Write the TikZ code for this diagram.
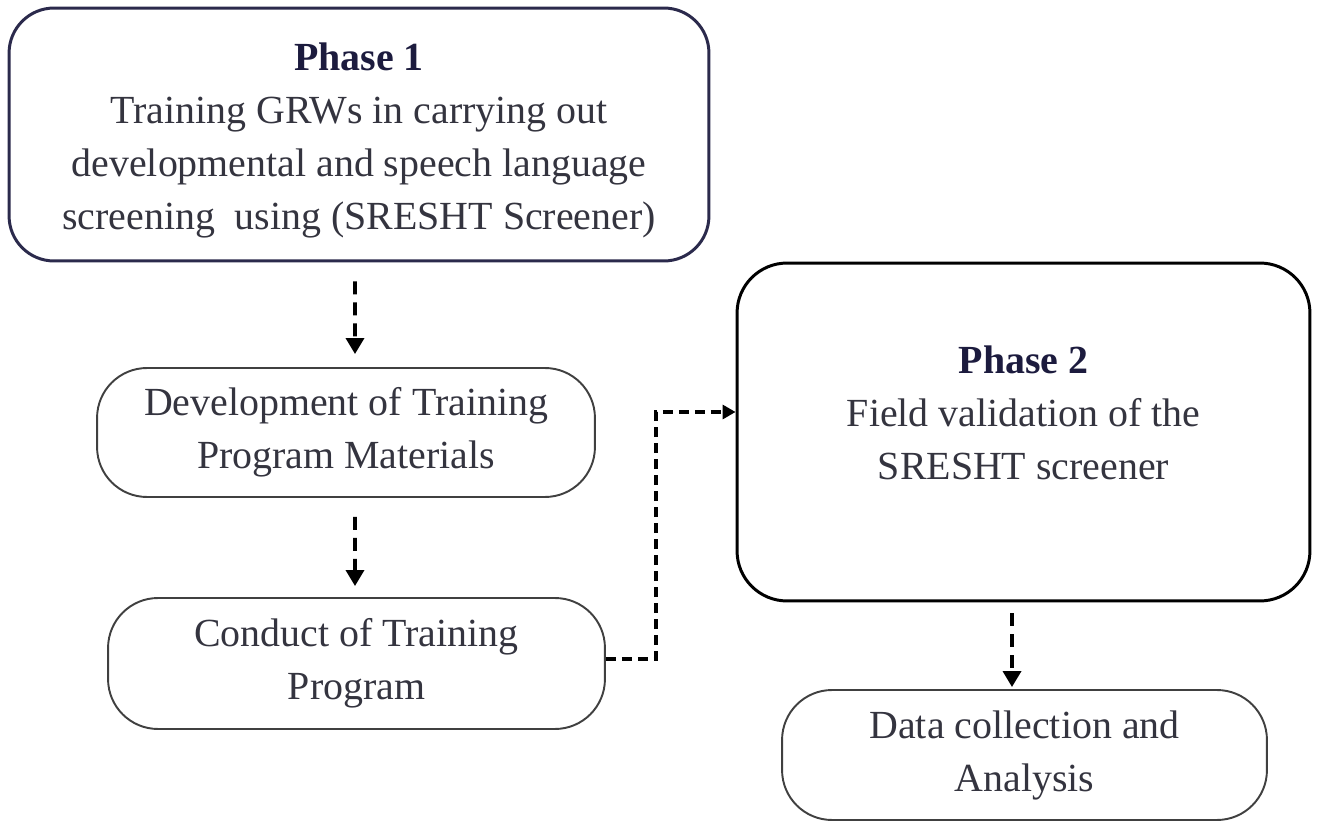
\documentclass[tikz,border=0pt]{standalone}
\usepackage{fontspec}
\setmainfont{Liberation Serif}
\usetikzlibrary{arrows.meta}
\definecolor{boxnavy}{HTML}{2B2A4C}
\definecolor{inkgray}{HTML}{34343F}
\definecolor{headnavy}{HTML}{1C1B3E}

\begin{document}
\begin{tikzpicture}[x = 0.02cm, y = -0.02cm,
        txt/.style = {align=center, text=inkgray, font=\fontsize{22.7}{30.2}\selectfont},
        bigbox/.style = {draw, rounded corners=0.9cm, line width=1.7pt},
        smallbox/.style = {draw=black!75, rounded corners=1cm, line width=1.1pt},
        flow/.style = {line width=2pt, dash pattern=on 0.26cm off 0.16cm, -{Triangle[width=0.36cm, length=0.32cm]}},
        link/.style = {line width=1.8pt, dash pattern=on 0.2cm off 0.12cm, -{Triangle[width=0.28cm, length=0.26cm]}}]
            \useasboundingbox (0,0) rectangle (1319,824);
            % left column
            \node[bigbox, draw=boxnavy, minimum width=14cm, minimum height=5.06cm] (p1) at (359,134.5) {};
            \node[txt] (p1txt) at ([yshift=-0.12cm]p1.center)
                {{\color{headnavy}\bfseries Phase 1}\\ Training GRWs in carrying out\\ developmental and speech language\\ screening\ \ using (SRESHT Screener)};
            \node[smallbox, txt, minimum width=9.96cm, minimum height=2.58cm] (dev) at (346,432.5)
                {Development of Training\\ Program Materials};
            \node[smallbox, txt, minimum width=9.94cm, minimum height=2.62cm] (con) at (356.5,663.5)
                {Conduct of Training\\ Program};
            % right column
            \node[bigbox, draw=black, rounded corners=1cm, minimum width=11.46cm, minimum height=6.76cm] (p2) at (1023.5,432) {};
            \node[txt] (p2txt) at ([yshift=0.38cm]p2.center)
                {{\color{headnavy}\bfseries Phase 2}\\ Field validation of the\\ SRESHT screener};
            \node[smallbox, txt, minimum width=9.7cm, minimum height=2.6cm] (dat) at (1024.5,755)
                {Data collection and\\ Analysis};
            % connectors
            \draw[flow] ([xshift=-0.08cm, yshift=-0.38cm]p1.south) -- ([xshift=0.18cm, yshift=0.26cm]dev.north);
            \draw[flow] ([xshift=0.18cm, yshift=-0.38cm]dev.south) -- ([xshift=-0.03cm, yshift=0.22cm]con.north);
            \draw[flow] ([xshift=-0.23cm, yshift=-0.22cm]p2.south) -- ([xshift=-0.25cm, yshift=0.04cm]dat.north);
            \draw[link] ([yshift=0.09cm]con.east) -- ++(50,0) |- ([yshift=0.4cm]p2.west);
        \end{tikzpicture}
\end{document}
